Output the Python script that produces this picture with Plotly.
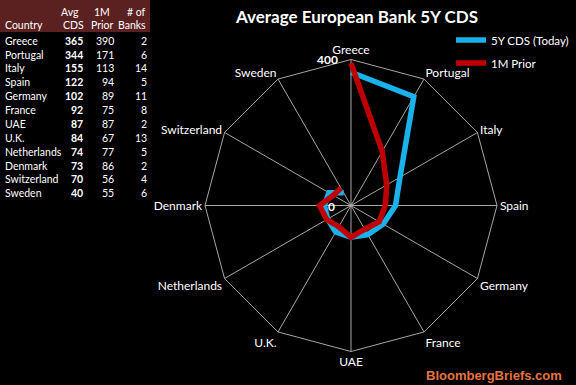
import plotly.graph_objects as go

countries = ["Greece", "Portugal", "Italy", "Spain", "Germany", "France", "UAE",
             "U.K.", "Netherlands", "Denmark", "Switzerland", "Sweden"]
avg_cds = [365, 344, 155, 122, 102, 92, 87, 84, 74, 73, 70, 40]
prior_1m = [390, 171, 113, 94, 89, 75, 87, 67, 77, 86, 56, 55]
banks = [2, 6, 14, 5, 11, 8, 2, 13, 5, 2, 4, 6]
header_top = ["", "Avg", "1M", "# of"]
header_bottom = ["Country", "CDS", "Prior", "Banks"]
radial_ticks = [0, 400]

FONT = "Lato"
BLUE = "#19b2ea"
RED = "#c00000"
GRID = "#a6a6a6"
W, H = 576, 385
# polar geometry (pixels)
CX, CY, R = 351, 205.5, 146


def px(x):
    return x / W


def py(y):
    return 1 - y / H


fig = go.Figure()

fig.add_trace(go.Scatterpolar(
    r=avg_cds, theta=countries, mode="lines", name="5Y CDS (Today)",
    line=dict(color=BLUE, width=5.5), legend="legend",
))
fig.add_trace(go.Scatterpolar(
    r=prior_1m, theta=countries, mode="lines", name="1M Prior",
    line=dict(color=RED, width=5.5), legend="legend2",
))

# ---- data table drawn as text ----
annotations = []
tfont = dict(family=FONT, size=10.5, color="white")
head_cols = [(3, "left"), (70, "center"), (102, "center"), (148, "right")]
for (x, al), top, bot in zip(head_cols, header_top, header_bottom):
    if top:
        annotations.append(dict(text=top, x=px(x), y=py(12), xanchor=al, yanchor="middle"))
    annotations.append(dict(text=bot, x=px(x + (3 if bot == "CDS" else 0)),
                            y=py(25), xanchor=al, yanchor="middle"))
row0, dy = 40.7, 13.87
for i, c in enumerate(countries):
    yy = py(row0 + i * dy)
    annotations.append(dict(text=c, x=px(3), y=yy, xanchor="left", yanchor="middle"))
    annotations.append(dict(text="<b>%d</b>" % avg_cds[i], x=px(84.5), y=yy, xanchor="right", yanchor="middle"))
    annotations.append(dict(text=str(prior_1m[i]), x=px(116), y=yy, xanchor="right", yanchor="middle"))
    annotations.append(dict(text=str(banks[i]), x=px(148.5), y=yy, xanchor="right", yanchor="middle"))
for a in annotations:
    a.update(xref="paper", yref="paper", showarrow=False, font=tfont)

# radial axis labels (0 at centre, 400 at outer ring), placed left of the vertical axis
rmax = radial_ticks[-1]
for t in radial_ticks:
    ypix = CY - R * t / rmax
    annotations.append(dict(
        text="<b>%d</b>" % t, x=px(CX - (11 if t else 14)), y=py(ypix + (0 if t else 1)),
        xref="paper", yref="paper", xanchor="right", yanchor="middle", showarrow=False,
        font=dict(family=FONT, size=12, color="white"),
    ))

annotations.append(dict(
    text="<b>BloombergBriefs.com</b>", x=px(494), y=py(375),
    xref="paper", yref="paper", xanchor="center", yanchor="middle", showarrow=False,
    font=dict(family="Liberation Sans", size=13, color="#e8733f"),
))

fig.update_layout(
    width=W, height=H,
    paper_bgcolor="black", plot_bgcolor="black",
    margin=dict(l=0, r=0, t=0, b=0),
    font=dict(family=FONT, color="white"),
    title=dict(text="<b>Average European Bank 5Y CDS</b>", x=px(357), xanchor="center",
               y=py(17), yanchor="middle", font=dict(size=17, color="white", family=FONT)),
    shapes=[dict(type="rect", xref="paper", yref="paper", x0=0, x1=px(150), y0=py(32), y1=1,
                 fillcolor="#5b2020", line=dict(width=0), layer="below")],
    polar=dict(
        domain=dict(x=[px(CX - R), px(CX + R)], y=[py(CY + R), py(CY - R)]),
        bgcolor="black",
        gridshape="linear",
        angularaxis=dict(
            direction="clockwise", rotation=90,
            categoryorder="array", categoryarray=countries,
            showline=True, linecolor=GRID, linewidth=1,
            showgrid=True, gridcolor=GRID, gridwidth=1,
            ticks="", tickfont=dict(family=FONT, size=12, color="white"),
        ),
        radialaxis=dict(
            range=[0, rmax], tickvals=radial_ticks, angle=90,
            showticklabels=False, showline=False, showgrid=False, ticks="",
        ),
    ),
    legend=dict(x=px(451), y=py(40), xanchor="left", yanchor="middle",
                bgcolor="rgba(0,0,0,0)", font=dict(family=FONT, size=11.5, color="white")),
    legend2=dict(x=px(451), y=py(63), xanchor="left", yanchor="middle",
                 bgcolor="rgba(0,0,0,0)", font=dict(family=FONT, size=11.5, color="white")),
    showlegend=True,
    annotations=annotations,
)

fig.write_html("out.html", config={"displayModeBar": False},
               post_script="document.body.style.margin='0';")
